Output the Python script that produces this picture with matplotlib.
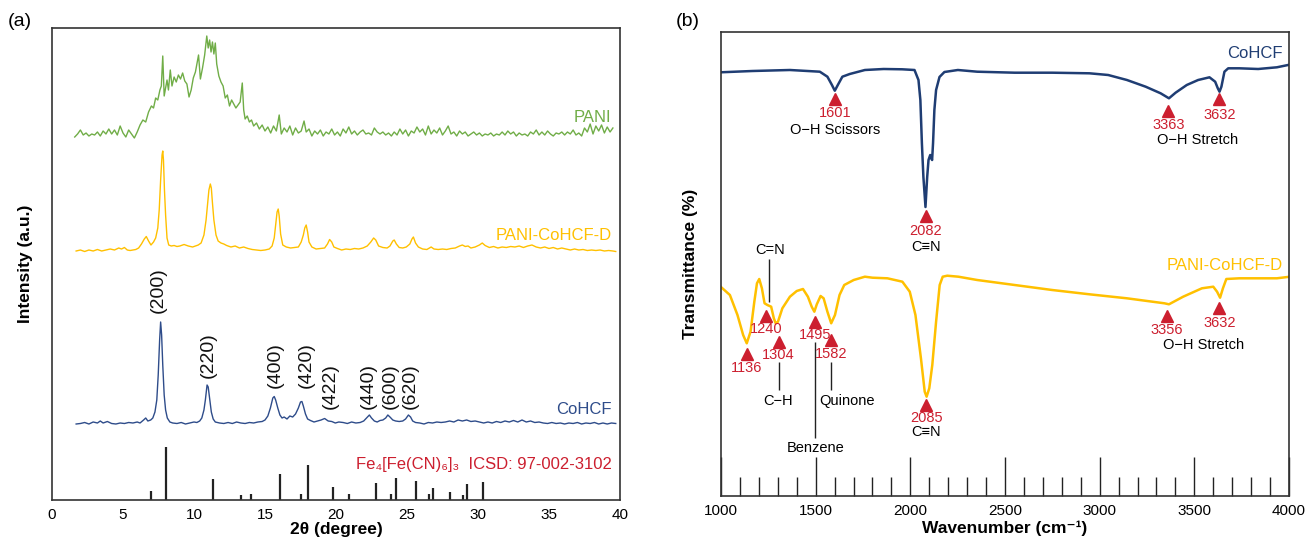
import numpy as np
import matplotlib.pyplot as plt
from matplotlib.ticker import MultipleLocator

plt.rcParams['font.family'] = ['Liberation Sans', 'DejaVu Sans']

# ================ DATA (a) XRD =================
# (2theta, intensity), arbitrary units with offsets
pani_xrd = [
    (1.6, 363), (1.8, 366), (2.0, 370), (2.2, 365), (2.4, 367), (2.6, 364), (2.8, 366), (3.0, 365),
    (3.2, 368), (3.4, 364), (3.6, 369), (3.8, 366), (4.0, 371), (4.2, 366), (4.4, 370), (4.6, 365),
    (4.8, 374), (5.0, 367), (5.2, 363), (5.4, 370), (5.6, 366), (5.8, 362), (6.0, 368), (6.2, 375),
    (6.4, 380), (6.6, 378), (6.8, 388), (7.0, 394), (7.15, 392), (7.3, 402), (7.45, 400), (7.6, 410),
    (7.7, 414), (7.8, 444), (7.9, 404), (8.0, 412), (8.1, 420), (8.2, 410), (8.33, 430), (8.45, 414),
    (8.6, 423), (8.75, 418), (8.9, 425), (9.05, 421), (9.2, 427), (9.35, 419), (9.5, 416), (9.65, 403),
    (9.8, 410), (9.95, 422), (10.1, 428), (10.2, 436), (10.32, 445), (10.45, 421), (10.6, 432),
    (10.75, 445), (10.9, 464), (11.0, 452), (11.1, 460), (11.2, 448), (11.3, 458), (11.4, 446),
    (11.5, 457), (11.6, 436), (11.75, 424), (11.9, 418), (12.05, 414), (12.2, 402), (12.35, 405),
    (12.5, 394), (12.65, 400), (12.8, 396), (12.95, 392), (13.1, 395), (13.25, 398), (13.4, 417),
    (13.5, 390), (13.6, 381), (13.75, 384), (13.9, 378), (14.05, 380), (14.2, 374), (14.4, 377),
    (14.6, 371), (14.8, 375), (15.0, 369), (15.2, 373), (15.4, 367), (15.6, 374), (15.8, 369),
    (16.0, 385), (16.15, 366), (16.35, 372), (16.55, 368), (16.75, 374), (16.95, 365), (17.15, 372),
    (17.35, 367), (17.55, 369), (17.75, 379), (17.9, 368), (18.1, 371), (18.3, 364), (18.5, 369),
    (18.7, 366), (18.9, 370), (19.1, 364), (19.3, 368), (19.5, 366), (19.7, 371), (19.9, 365),
    (20.1, 368), (20.3, 364), (20.5, 371), (20.7, 367), (20.9, 373), (21.1, 366), (21.3, 369),
    (21.5, 365), (21.7, 368), (21.9, 370), (22.1, 366), (22.3, 367), (22.5, 365), (22.7, 372),
    (22.9, 368), (23.1, 366), (23.3, 368), (23.5, 365), (23.7, 367), (23.9, 364), (24.1, 368),
    (24.3, 365), (24.5, 371), (24.7, 366), (24.9, 370), (25.1, 364), (25.3, 369), (25.5, 367),
    (25.7, 373), (25.9, 368), (26.1, 371), (26.3, 365), (26.5, 374), (26.7, 366), (26.9, 370),
    (27.1, 367), (27.3, 372), (27.5, 365), (27.7, 369), (27.9, 374), (28.1, 366), (28.3, 368),
    (28.5, 364), (28.7, 369), (28.9, 366), (29.1, 368), (29.3, 364), (29.5, 366), (29.7, 368),
    (29.9, 365), (30.1, 367), (30.3, 364), (30.5, 366), (30.7, 365), (30.9, 367), (31.1, 364),
    (31.3, 366), (31.5, 365), (31.7, 368), (31.9, 365), (32.1, 369), (32.3, 366), (32.5, 368),
    (32.7, 364), (32.9, 367), (33.1, 365), (33.3, 366), (33.5, 364), (33.7, 368), (33.9, 366),
    (34.1, 370), (34.3, 365), (34.5, 368), (34.7, 365), (34.9, 369), (35.1, 366), (35.3, 364),
    (35.5, 367), (35.7, 366), (35.9, 368), (36.1, 365), (36.3, 368), (36.5, 366), (36.7, 370),
    (36.9, 365), (37.1, 367), (37.3, 364), (37.5, 372), (37.7, 368), (37.9, 376), (38.1, 366),
    (38.3, 374), (38.5, 369), (38.7, 375), (38.9, 367), (39.1, 373), (39.3, 368), (39.5, 372),
]

pani_cohcf_xrd = [
    (1.7, 249), (2.0, 250), (2.3, 248.5), (2.6, 250), (2.9, 249), (3.2, 250.5), (3.5, 249), (3.8, 250),
    (4.1, 251), (4.4, 250), (4.7, 252), (4.9, 251), (5.1, 252.5), (5.3, 250), (5.5, 249.5), (5.7, 250),
    (5.9, 250.5), (6.1, 252), (6.3, 256), (6.5, 261), (6.64, 263.5), (6.8, 259), (6.97, 255),
    (7.15, 258), (7.3, 262), (7.45, 272), (7.55, 290), (7.65, 320), (7.75, 345), (7.8, 349),
    (7.85, 340), (7.92, 310), (8.0, 285), (8.1, 262), (8.22, 255), (8.4, 254), (8.6, 254.5),
    (8.8, 253.5), (9.0, 254), (9.3, 255.5), (9.6, 254), (9.9, 253), (10.1, 254), (10.3, 255),
    (10.5, 257), (10.7, 265), (10.85, 280), (10.95, 295), (11.05, 310), (11.15, 316), (11.22, 312),
    (11.3, 297), (11.4, 280), (11.55, 265), (11.7, 259), (11.9, 257), (12.1, 256), (12.3, 254.5),
    (12.6, 253), (12.9, 254), (13.2, 252), (13.5, 253), (13.8, 251.5), (14.1, 250.5), (14.4, 250),
    (14.7, 249.5), (15.0, 250), (15.3, 251), (15.5, 254), (15.65, 262), (15.75, 275), (15.85, 288),
    (15.93, 291), (16.0, 284), (16.1, 266), (16.25, 255), (16.5, 253), (16.8, 252), (17.1, 252.5),
    (17.35, 253), (17.55, 258), (17.7, 265), (17.8, 272), (17.9, 275), (18.0, 268), (18.1, 258),
    (18.3, 253), (18.6, 251), (18.9, 251.5), (19.2, 252), (19.4, 256), (19.55, 260.5), (19.7, 258),
    (19.85, 253), (20.1, 251.5), (20.4, 250), (20.7, 251), (21.0, 250.5), (21.3, 251.5), (21.6, 251),
    (21.9, 252), (22.2, 254), (22.45, 258), (22.65, 262), (22.8, 260), (23.0, 254), (23.3, 252.5),
    (23.6, 252), (23.8, 254), (24.0, 259), (24.1, 260), (24.25, 256), (24.45, 252.5), (24.7, 252),
    (24.95, 253), (25.2, 256), (25.35, 261), (25.45, 263), (25.6, 257), (25.8, 253), (26.1, 251),
    (26.4, 250.5), (26.7, 253), (26.9, 251), (27.2, 250.5), (27.5, 251), (27.8, 250.5), (28.1, 251.5),
    (28.4, 252), (28.7, 254), (28.9, 255), (29.1, 253.5), (29.3, 254), (29.5, 252), (29.8, 253),
    (30.1, 255), (30.3, 257), (30.5, 254.5), (30.8, 252.5), (31.1, 253.5), (31.4, 252), (31.7, 253),
    (32.0, 252.5), (32.3, 253.5), (32.6, 253), (32.9, 254), (33.2, 252.5), (33.5, 254), (33.8, 255),
    (34.1, 253), (34.4, 252), (34.7, 253), (35.0, 251.5), (35.3, 252.5), (35.6, 251), (35.9, 252),
    (36.2, 251), (36.5, 250), (36.8, 251), (37.1, 250), (37.4, 250.5), (37.7, 249.5), (38.0, 250),
    (38.3, 249.5), (38.6, 250), (38.9, 249), (39.2, 249.5), (39.5, 249), (39.7, 248.5),
]

cohcf_xrd = [
    (1.7, 76), (2.0, 76.5), (2.3, 77.5), (2.6, 76), (2.9, 78), (3.2, 77), (3.4, 79), (3.6, 77),
    (3.9, 78.5), (4.2, 76.5), (4.5, 76), (4.8, 77), (5.1, 76.5), (5.4, 77.5), (5.7, 77), (6.0, 78),
    (6.2, 77), (6.45, 80), (6.6, 82), (6.75, 79), (6.95, 80), (7.1, 82), (7.25, 88), (7.38, 100),
    (7.48, 125), (7.58, 160), (7.65, 178), (7.72, 165), (7.8, 135), (7.9, 105), (8.0, 90), (8.12, 82),
    (8.3, 78), (8.5, 77), (8.8, 76.5), (9.1, 77.5), (9.4, 76), (9.7, 77), (10.0, 78), (10.2, 77.5),
    (10.4, 79), (10.55, 82), (10.7, 90), (10.8, 100), (10.92, 115), (11.0, 113), (11.1, 102),
    (11.22, 88), (11.35, 81), (11.5, 78), (11.8, 77), (12.1, 76.5), (12.4, 77.5), (12.7, 76.5),
    (13.0, 78), (13.3, 77), (13.6, 76.5), (13.9, 77.5), (14.2, 77), (14.5, 78), (14.8, 78.5),
    (15.0, 80), (15.2, 84), (15.38, 92), (15.55, 102), (15.65, 103.5), (15.75, 100), (15.9, 92),
    (16.05, 85), (16.2, 82), (16.35, 83), (16.55, 81), (16.75, 84), (16.95, 83), (17.15, 86),
    (17.35, 92), (17.5, 98), (17.6, 98.5), (17.7, 94), (17.85, 86), (18.0, 81), (18.2, 79.5),
    (18.45, 78), (18.7, 79), (18.95, 80), (19.2, 81.5), (19.45, 79), (19.7, 78.5), (19.95, 77),
    (20.2, 78), (20.5, 77.5), (20.8, 76.5), (21.1, 78), (21.4, 77), (21.7, 77.5), (21.95, 79),
    (22.15, 82), (22.35, 85), (22.5, 82), (22.7, 79), (22.9, 78), (23.1, 79.5), (23.3, 80),
    (23.5, 82), (23.65, 85), (23.8, 83), (24.0, 80), (24.2, 79), (24.45, 78.5), (24.7, 79),
    (24.9, 81), (25.1, 85), (25.25, 83), (25.4, 79), (25.6, 77.5), (25.9, 77), (26.2, 76),
    (26.5, 77.5), (26.8, 77), (27.1, 78), (27.4, 77.5), (27.7, 78), (28.0, 79), (28.3, 78),
    (28.6, 80), (28.9, 79), (29.2, 80), (29.5, 78.5), (29.8, 79), (30.1, 78), (30.4, 77), (30.7, 78),
    (31.0, 77), (31.3, 78.5), (31.6, 77.5), (31.9, 79), (32.2, 78), (32.5, 79.5), (32.8, 78),
    (33.1, 80), (33.4, 78), (33.7, 79), (34.0, 77.5), (34.3, 78), (34.6, 77), (34.9, 76.5),
    (35.2, 77.5), (35.5, 76.5), (35.8, 77), (36.1, 76), (36.4, 77), (36.7, 76.5), (37.0, 77.5),
    (37.3, 76), (37.6, 77), (37.9, 76.5), (38.2, 77.5), (38.5, 76), (38.8, 77), (39.1, 76),
    (39.4, 77), (39.7, 76.5),
]

# reference pattern Fe4[Fe(CN)6]3 ICSD 97-002-3102
ref_pos = [6.94, 8.02, 11.33, 13.32, 13.98, 16.07, 17.53, 18.00, 19.76, 20.95,
           22.83, 23.90, 24.23, 25.60, 26.56, 26.83, 28.05, 28.94, 29.21, 30.34]
ref_int = [9, 53, 21, 5, 6, 26, 6, 35, 13, 6,
           17, 6, 22, 19, 6, 12, 8, 5, 16, 18]

hkl_labels = ['(200)', '(220)', '(400)', '(420)', '(422)', '(440)', '(600)', '(620)']
hkl_pos = [7.5, 11.0, 15.75, 17.9, 19.6, 22.3, 23.8, 25.25]
hkl_base = [187, 122, 112, 112, 91, 91, 91, 91]

# ================ DATA (b) FTIR ================
cohcf_ftir = [
    (998, 427.7), (1166, 429), (1364, 430), (1522, 428.3), (1562, 423.3), (1586, 415), (1601, 409.3),
    (1617, 415), (1641, 423.3), (1680, 426), (1760, 430), (1859, 431), (1957, 430.7), (2022, 430),
    (2043, 420), (2053, 400), (2061, 357), (2069, 323), (2080, 293), (2089, 323), (2096, 340),
    (2105, 345), (2110, 342), (2115, 340), (2120, 357), (2127, 390), (2136, 410), (2154, 423),
    (2180, 428), (2251, 430), (2353, 428.3), (2551, 427.3), (2749, 427.3), (2946, 426.7),
    (3045, 425), (3144, 420), (3243, 413.3), (3322, 406.7), (3366, 401.7), (3401, 407.3),
    (3460, 415), (3520, 420), (3580, 422.7), (3610, 418.3), (3624, 411.7), (3633, 408.3),
    (3643, 413.3), (3659, 428.3), (3679, 431.7), (3738, 431.7), (3837, 431), (3936, 432.7),
    (3995, 435),
]

pani_cohcf_ftir = [
    (998, 213.3), (1047, 205), (1087, 185), (1117, 165), (1136, 156.7), (1156, 168.3), (1176, 198.3),
    (1190, 216.7), (1202, 221), (1216, 211.7), (1230, 196.7), (1245, 195), (1265, 193.3),
    (1279, 181.7), (1289, 176.7), (1301, 178.3), (1324, 191.7), (1364, 203.3), (1400, 209),
    (1433, 211), (1459, 203.3), (1479, 193.3), (1493, 188.3), (1506, 195.7), (1526, 204),
    (1542, 201.7), (1562, 188.3), (1582, 176.7), (1602, 185), (1626, 205), (1651, 215), (1701, 220),
    (1760, 223.3), (1800, 222.3), (1879, 221.7), (1958, 218.3), (1997, 208.3), (2027, 185),
    (2056, 141.7), (2076, 108.3), (2086, 103.3), (2100, 111.7), (2116, 135), (2136, 178.3),
    (2155, 215), (2171, 223.3), (2195, 224.3), (2254, 223.3), (2353, 220), (2551, 215), (2749, 210),
    (2946, 205.7), (3144, 201.7), (3342, 196.7), (3366, 195.7), (3441, 203.3), (3540, 211.7),
    (3600, 213.3), (3620, 208.3), (3636, 202.3), (3651, 211.7), (3669, 221), (3738, 221.7),
    (3936, 221.7), (4005, 223.3),
]

# marked bands: wavenumber, triangle height, label height
cohcf_bands = [1601, 2082, 3363, 3632]
cohcf_tri_y = [400.7, 284.3, 389.3, 400.7]
cohcf_lab_y = [387, 269.3, 374.7, 385]

pani_bands = [1136, 1240, 1304, 1495, 1582, 2085, 3356, 3632]
pani_tri_y = [145.7, 184.3, 158.3, 177.7, 160, 95, 184.3, 192.3]
pani_lab_y = [131.7, 171, 145, 165, 145.7, 81.7, 170, 176.7]

GREEN = '#70AD47'
GOLD = '#FFC000'
BLUE_A = '#2E4C8A'
BLUE_B = '#1F3D73'
RED = '#CC1F2F'
FRAME = '#333333'

fig = plt.figure(figsize=(13.05, 5.42), dpi=100)
W, H = 1305, 542

# =============== PANEL (a) ====================
ax1 = fig.add_axes([52 / W, (H - 500) / H, 568 / W, 472 / H])
for data, col in [(pani_xrd, GREEN), (pani_cohcf_xrd, GOLD), (cohcf_xrd, BLUE_A)]:
    xs, ys = zip(*data)
    ax1.plot(xs, ys, color=col, lw=1.0)

ax1.vlines(ref_pos, 0, ref_int, color='#222222', lw=1.6)

for lab, xp, yb in zip(hkl_labels, hkl_pos, hkl_base):
    ax1.text(xp, yb, lab, rotation=90, ha='center', va='bottom', fontsize=14, color='#111111')

ax1.text(39.4, 382, 'PANI', color=GREEN, fontsize=12, ha='right', va='center')
ax1.text(39.4, 264, 'PANI-CoHCF-D', color=GOLD, fontsize=12, ha='right', va='center')
ax1.text(39.4, 90, 'CoHCF', color=BLUE_A, fontsize=12, ha='right', va='center')
ax1.text(39.4, 36, 'Fe₄[Fe(CN)₆]₃  ICSD: 97-002-3102', color=RED, fontsize=12,
         ha='right', va='center')

ax1.set_xlim(0, 40)
ax1.set_ylim(0, 472)
ax1.set_xticks(range(0, 41, 5))
ax1.set_yticks([])
ax1.tick_params(axis='x', length=0, pad=6, labelsize=11)
ax1.set_xlabel('2θ (degree)', fontsize=12.5, fontweight='bold')
ax1.xaxis.set_label_coords(0.5, -0.046)
ax1.set_ylabel('Intensity (a.u.)', fontsize=12.5, fontweight='bold')
ax1.yaxis.set_label_coords(-0.033, 0.5)
for s in ax1.spines.values():
    s.set_color(FRAME)
    s.set_linewidth(1.2)

# =============== PANEL (b) ====================
ax2 = fig.add_axes([721 / W, (H - 496) / H, 568 / W, 464 / H])
for data, col in [(cohcf_ftir, BLUE_B), (pani_cohcf_ftir, GOLD)]:
    xs, ys = zip(*data)
    ax2.plot(xs, ys, color=col, lw=1.8)

ax2.plot(cohcf_bands, cohcf_tri_y, ls='none', marker='^', ms=8, color=RED)
ax2.plot(pani_bands, pani_tri_y, ls='none', marker='^', ms=8, color=RED)
for wn, yl in zip(cohcf_bands + pani_bands, cohcf_lab_y + pani_lab_y):
    ax2.text(wn, yl, str(wn), color=RED, fontsize=10.5, ha='center', va='center')

# group assignments
ax2.text(1605, 370, 'O−H Scissors', fontsize=10.5, ha='center', va='center')
ax2.text(2082, 253, 'C≡N', fontsize=10.5, ha='center', va='center')
ax2.text(3519, 360, 'O−H Stretch', fontsize=10.5, ha='center', va='center')
ax2.text(2085, 68, 'C≡N', fontsize=10.5, ha='center', va='center')
ax2.text(3550, 155, 'O−H Stretch', fontsize=10.5, ha='center', va='center')
ax2.text(1258, 250, 'C=N', fontsize=10.5, ha='center', va='center')
ax2.text(1301, 99, 'C−H', fontsize=10.5, ha='center', va='center')
ax2.text(1664, 99, 'Quinone', fontsize=10.5, ha='center', va='center')
ax2.text(1502, 52, 'Benzene', fontsize=10.5, ha='center', va='center')
ax2.vlines([1253], 198, 241, color='#222222', lw=1.0)
ax2.vlines([1304, 1582], 110, 138, color='#222222', lw=1.0)
ax2.vlines([1495], 62, 158, color='#222222', lw=1.0)

ax2.text(3968, 447, 'CoHCF', color=BLUE_B, fontsize=12, ha='right', va='center')
ax2.text(3968, 235, 'PANI-CoHCF-D', color=GOLD, fontsize=12, ha='right', va='center')

ax2.set_xlim(1000, 4000)
ax2.set_ylim(4, 468)
ax2.xaxis.set_major_locator(MultipleLocator(500))
ax2.xaxis.set_minor_locator(MultipleLocator(100))
ax2.set_yticks([])
ax2.tick_params(axis='x', which='major', direction='in', length=28, width=1.0,
                color='#222222', pad=6, labelsize=11)
ax2.tick_params(axis='x', which='minor', direction='in', length=14, width=1.0, color='#222222')
ax2.set_xlabel('Wavenumber (cm⁻¹)', fontsize=12.5, fontweight='bold')
ax2.xaxis.set_label_coords(0.5, -0.052)
ax2.set_ylabel('Transmittance (%)', fontsize=12.5, fontweight='bold')
ax2.yaxis.set_label_coords(-0.040, 0.5)
for s in ax2.spines.values():
    s.set_color(FRAME)
    s.set_linewidth(1.2)

fig.text(8 / W, 1 - 22 / H, '(a)', fontsize=14, va='center', ha='left')
fig.text(676 / W, 1 - 22 / H, '(b)', fontsize=14, va='center', ha='left')

plt.savefig('out.png', dpi=100)
plt.close()
